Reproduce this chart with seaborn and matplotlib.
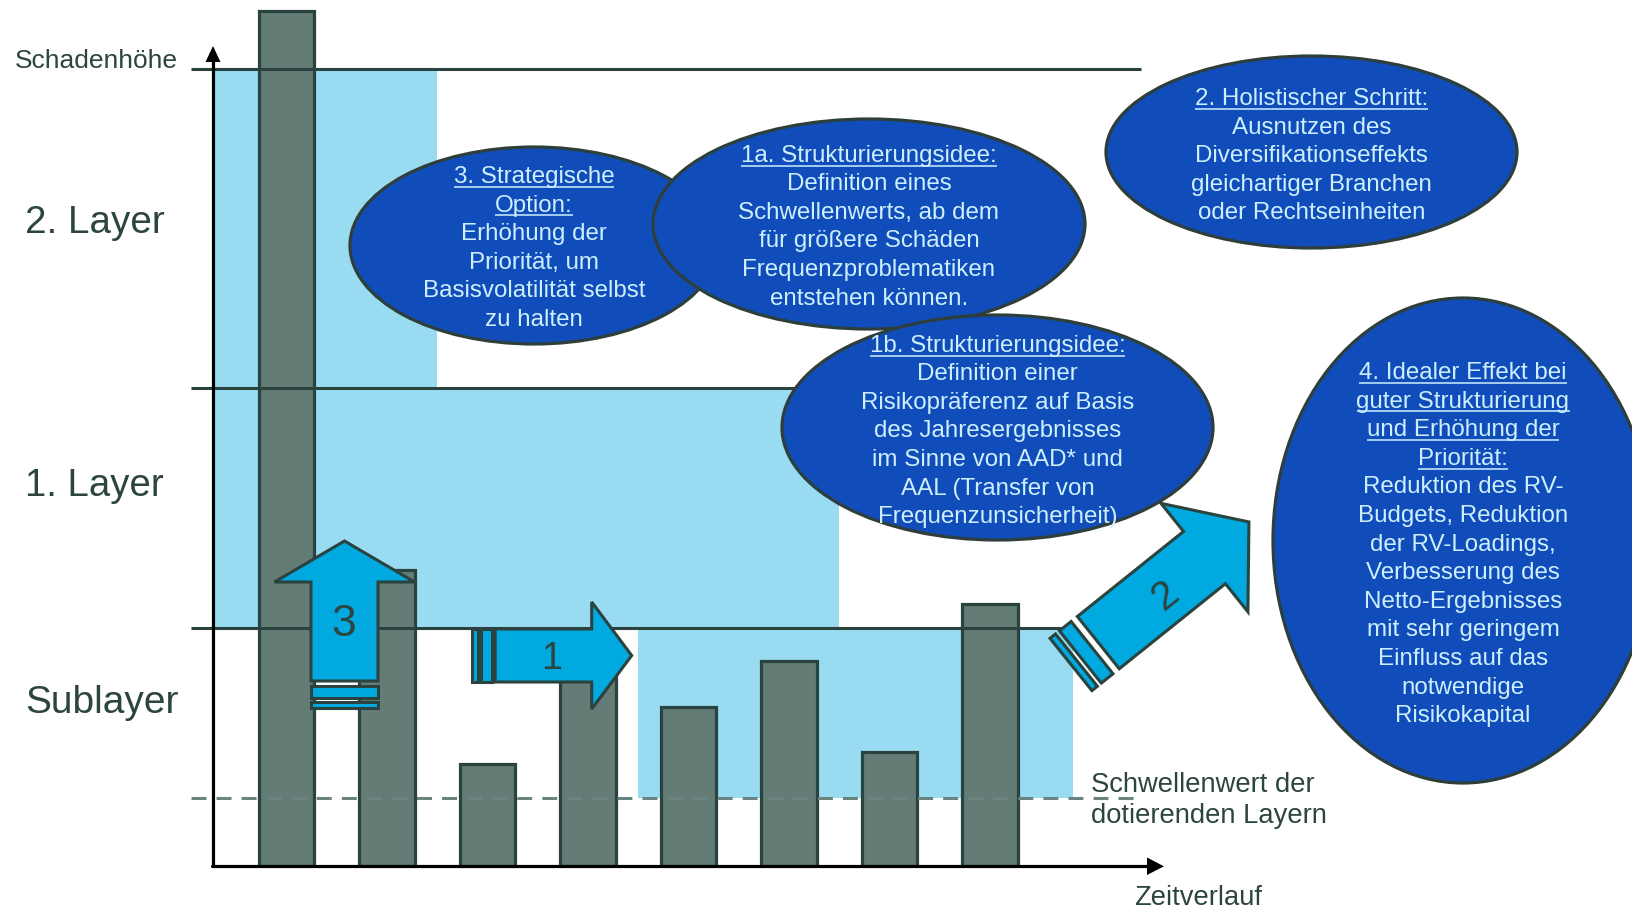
import numpy as np
import pandas as pd
import matplotlib
matplotlib.use("Agg")
import matplotlib.pyplot as plt
import seaborn as sns
from matplotlib.patches import Ellipse, Polygon, Rectangle

# ------------------------------------------------------------------ data
periods = ["P1", "P2", "P3", "P4", "P5", "P6", "P7", "P8"]
loss_amounts = [855, 296, 102, 216, 159, 205, 114, 262]      # Schadenhöhe je Periode

layer_names = ["Sublayer", "1. Layer", "2. Layer"]
layer_lower = [68, 238, 478]                                 # untere Grenze je Layer
layer_upper = [238, 478, 797]                                # obere Grenze je Layer
threshold = 68                                               # Schwellenwert der dotierenden Layern

# shaded cover per layer, in period units (None = from the value axis)
cover_from = [3.5, None, None]
cover_to = [7.83, 5.5, 1.5]

ellipse_texts = [
    ["3. Strategische", "Option:", "Erhöhung der", "Priorität, um",
     "Basisvolatilität selbst", "zu halten"],
    ["1a. Strukturierungsidee:", "Definition eines", "Schwellenwerts, ab dem",
     "für größere Schäden", "Frequenzproblematiken", "entstehen können."],
    ["1b. Strukturierungsidee:", "Definition einer", "Risikopräferenz auf Basis",
     "des Jahresergebnisses", "im Sinne von AAD* und", "AAL (Transfer von",
     "Frequenzunsicherheit)"],
    ["2. Holistischer Schritt:", "Ausnutzen des", "Diversifikationseffekts",
     "gleichartiger Branchen", "oder Rechtseinheiten"],
    ["4. Idealer Effekt bei", "guter Strukturierung", "und Erhöhung der",
     "Priorität:", "Reduktion des RV-", "Budgets, Reduktion", "der RV-Loadings,",
     "Verbesserung des", "Netto-Ergebnisses", "mit sehr geringem",
     "Einfluss auf das", "notwendige", "Risikokapital"],
]
ellipse_underlined = [2, 1, 1, 1, 4]
arrow_labels = ["3", "1", "2"]

# ------------------------------------------------------------------ style
W, H = 1632, 909
ORIGIN_X, ORIGIN_Y = 213, 866          # pixel position of the axis origin
BAR_C0, BAR_PITCH = 286.5, 100.5

LIGHT = "#99dcf1"
BAR_FC = "#637c75"
DARK = "#2b433e"
ELL_FC = "#104dbb"
ELL_TXT = "#cdeffd"
ARROW_FC = "#00a9df"
DASH = "#6b847f"

sns.set_theme(style="white")
plt.rcParams["font.family"] = ["Liberation Sans", "DejaVu Sans"]

fig = plt.figure(figsize=(W / 100, H / 100), dpi=100, facecolor="white")

def vy(v):
    """value (height above time axis) -> pixel row"""
    return ORIGIN_Y - v

# ------------------------------------------------------------------ bar axes
x_left_px, x_right_px = ORIGIN_X, 1141
bax = fig.add_axes([x_left_px / W, (H - ORIGIN_Y) / H,
                    (x_right_px - x_left_px) / W, ORIGIN_Y / H], zorder=1)
df = pd.DataFrame({"Periode": periods, "Schaden": loss_amounts})
sns.barplot(data=df, x="Periode", y="Schaden", ax=bax, color=BAR_FC,
            saturation=1, width=0.557, edgecolor=DARK, linewidth=2.3,
            errorbar=None, zorder=3)
xl = ((x_left_px - BAR_C0) / BAR_PITCH, (x_right_px - BAR_C0) / BAR_PITCH)
for lo, hi, c0, c1 in zip(layer_lower, layer_upper, cover_from, cover_to):
    start = xl[0] if c0 is None else c0
    bax.add_patch(Rectangle((start, lo), c1 - start, hi - lo,
                            facecolor=LIGHT, edgecolor="none", zorder=0.5))
bax.set_xlim(*xl)
bax.set_ylim(0, ORIGIN_Y)
bax.axis("off")
bax.patch.set_visible(False)

# ------------------------------------------------------------------ overlay axes
ax = fig.add_axes([0, 0, 1, 1], zorder=2)
ax.set_xlim(0, W)
ax.set_ylim(H, 0)
ax.axis("off")
ax.patch.set_visible(False)

# layer boundary lines
line_ends = {238: 1070, 478: 830, 797: 1141}
for v in sorted(set(layer_upper)):
    ax.plot([191, line_ends[v]], [vy(v), vy(v)], color=DARK, lw=2.2,
            solid_capstyle="butt", zorder=3)
ax.plot([191, 1141], [vy(threshold), vy(threshold)], color=DASH, lw=2.2,
        dashes=(4.9, 3.3), zorder=3)

# axes arrows
ax.plot([ORIGIN_X, ORIGIN_X], [ORIGIN_Y, 60], color="black", lw=2.3, zorder=4)
ax.add_patch(Polygon([(205.5, 62), (220.5, 62), (213, 46)], closed=True,
                     facecolor="black", edgecolor="none", zorder=4))
ax.plot([ORIGIN_X - 1, 1149], [ORIGIN_Y, ORIGIN_Y], color="black", lw=2.3, zorder=4)
ax.add_patch(Polygon([(1147, 857.5), (1147, 875), (1164, 866.3)], closed=True,
                     facecolor="black", edgecolor="none", zorder=4))

# axis labels / layer labels
TXT = "#2c4540"
ax.text(15, 67.7, "Schadenhöhe", fontsize=19, color=TXT, va="baseline", ha="left")
layer_label_base = [712.7, 496, 233]
layer_label_size = [28, 27.6, 27.8]
for name, yb, fs in zip(layer_names, layer_label_base, layer_label_size):
    ax.text(25, yb, name, fontsize=fs, color=TXT, va="baseline", ha="left")
ax.text(1091, 791.7, "Schwellenwert der", fontsize=19.7, color=TXT, va="baseline")
ax.text(1091, 823.3, "dotierenden Layern", fontsize=19.7, color=TXT, va="baseline")
ax.text(1134, 905, "Zeitverlauf", fontsize=19.7, color=TXT, va="baseline")

# striped arrows
def striped_arrow(tail, angle, length, shaft_w, head_w, head_len, stripes,
                  body_start, z=6):
    t = np.radians(angle)
    d = np.array([np.cos(t), -np.sin(t)])
    n = np.array([np.sin(t), np.cos(t)])
    p0 = np.array(tail, float)

    def P(u, v):
        return p0 + u * d + v * n

    hb = length - head_len
    body = [P(body_start, -shaft_w / 2), P(hb, -shaft_w / 2), P(hb, -head_w / 2),
            P(length, 0), P(hb, head_w / 2), P(hb, shaft_w / 2),
            P(body_start, shaft_w / 2)]
    ax.add_patch(Polygon(body, closed=True, facecolor=ARROW_FC, edgecolor=DARK,
                         lw=2.2, joinstyle="miter", zorder=z))
    for u0, u1 in stripes:
        pts = [P(u0, -shaft_w / 2), P(u1, -shaft_w / 2), P(u1, shaft_w / 2),
               P(u0, shaft_w / 2)]
        ax.add_patch(Polygon(pts, closed=True, facecolor=ARROW_FC, edgecolor=DARK,
                             lw=2.2, joinstyle="miter", zorder=z))

striped_arrow((344.5, 708), 90, 167, 67, 140, 41, [(0, 6.5), (10.5, 22)], 27)
striped_arrow((471.7, 655.5), 0, 160, 53, 107, 40, [(0, 6), (9.5, 20.5)], 23.5)
striped_arrow((1071, 664.5), 38.7, 228, 67, 139, 57, [(0, 7), (12, 27)], 35)

ax.text(344, 624, arrow_labels[0], fontsize=32, color=TXT, ha="center",
        va="center", zorder=7)
ax.text(552, 659, arrow_labels[1], fontsize=27, color=TXT, ha="center",
        va="center", zorder=7)
ax.text(1165.5, 595, arrow_labels[2], fontsize=29, color=TXT, ha="center",
        va="center", rotation=38.7, rotation_mode="anchor", zorder=7)

# ellipses with text
ellipse_geo = [  # centre x, centre y, half width, half height, first baseline
    (534, 245.5, 184, 98.5, 183.0),
    (869, 224.0, 216, 105.0, 161.7),
    (997.5, 427.5, 215.5, 112.5, 351.7),
    (1311.5, 152, 205.5, 96, 105.0),
    (1463, 540.5, 190, 242.5, 379.0),
]
LINE_STEP = 28.6
fig.canvas.draw()
renderer = fig.canvas.get_renderer()
inv = ax.transData.inverted()
for i, ((cx, cy, a, b, base), lines, nul) in enumerate(
        zip(ellipse_geo, ellipse_texts, ellipse_underlined)):
    z = 10 + 2 * i
    ax.add_patch(Ellipse((cx, cy), 2 * a, 2 * b, facecolor=ELL_FC,
                         edgecolor="#2e3f3b", lw=2.3, zorder=z))
    for k, line in enumerate(lines):
        yb = base + k * LINE_STEP
        t = ax.text(cx, yb, line, fontsize=17.4, color=ELL_TXT, ha="center",
                    va="baseline", zorder=z + 1)
        if k < nul:
            bb = t.get_window_extent(renderer=renderer)
            x0 = inv.transform((bb.x0, bb.y0))[0]
            x1 = inv.transform((bb.x1, bb.y0))[0]
            ax.plot([x0, x1], [yb + 3.8, yb + 3.8], color=ELL_TXT, lw=1.1,
                    solid_capstyle="butt", zorder=z + 1)

fig.savefig("out.png", dpi=100, facecolor="white")
